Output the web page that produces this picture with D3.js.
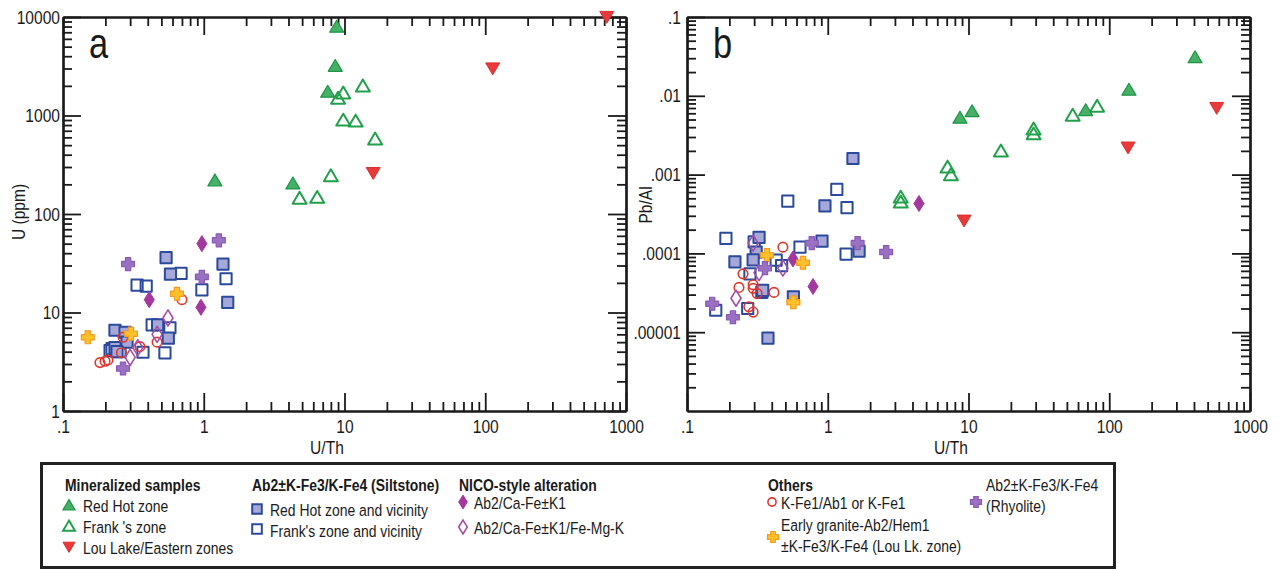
<!DOCTYPE html>
<html>
<head>
<meta charset="utf-8">
<script src="https://cdn.jsdelivr.net/npm/d3@7"></script>
<style>
  html, body { margin: 0; padding: 0; background: #fff; }
  svg { display: block; }
  text { font-family: "Liberation Sans", Arial, sans-serif; fill: #1a1a1a; }
</style>
</head>
<body>
<svg id="chart" width="1279" height="569"></svg>
<script>
// ---------- tick values and labels ----------
const ratioTicks = [0.1, 1, 10, 100, 1000];
const ratioTickLabels = [".1", "1", "10", "100", "1000"];
const uTicks = [1, 10, 100, 1000, 10000];
const uTickLabels = ["1", "10", "100", "1000", "10000"];
const pbAlTicks = [1e-5, 1e-4, 1e-3, 1e-2, 1e-1];
const pbAlTickLabels = [".00001", ".0001", ".001", ".01", ".1"];

// ---------- panel a : [U/Th, U ppm] ----------
const aRedHotZone = [[1.2, 220], [4.3, 205], [7.6, 1750], [8.6, 3200], [8.8, 8000]];
const aFranksZone = [[4.8, 145], [6.4, 148], [8.0, 245], [9.0, 1500], [9.8, 900], [9.8, 1700], [12, 880], [13.5, 2000], [16.5, 580]];
const aLouLake = [[16, 260], [113, 3000], [730, 10000]];
const aSiltRedHot = [[0.54, 36], [1.37, 31], [0.58, 24.5], [1.48, 12.7], [0.47, 7.5], [0.56, 5.5], [0.234, 6.6], [0.276, 6.3], [0.285, 5.0], [0.234, 4.4], [0.242, 4.0]];
const aSiltFranks = [[0.69, 25], [1.44, 22], [0.336, 19], [0.39, 18.5], [0.97, 17], [0.43, 7.5], [0.575, 7.0], [0.53, 3.9], [0.37, 3.95], [0.216, 4.1], [0.254, 4.0], [0.223, 4.3]];
const aNicoK1 = [[0.97, 50], [0.41, 13.5], [0.955, 11.3]];
const aNicoFeMgK = [[0.557, 8.8], [0.466, 6.0], [0.34, 4.4], [0.30, 3.5]];
const aKFe1 = [[0.70, 13.5], [0.466, 5.0], [0.267, 5.6], [0.352, 4.5], [0.26, 3.9], [0.183, 3.1], [0.199, 3.2], [0.209, 3.3]];
const aGranite = [[0.15, 5.6], [0.304, 6.1], [0.645, 15.5]];
const aRhyolite = [[0.29, 31], [1.28, 54], [0.97, 23], [0.267, 2.7]];

// ---------- panel b : [U/Th, Pb/Al] ----------
const bRedHotZone = [[8.7, 0.0053], [10.6, 0.0064], [68, 0.0066], [138, 0.012], [407, 0.031]];
const bFranksZone = [[3.3, 0.00052], [3.3, 0.00045], [7.1, 0.00125], [7.5, 0.001], [17, 0.002], [29, 0.0038], [29, 0.0033], [55, 0.0057], [82, 0.0074]];
const bLouLake = [[9.3, 0.00026], [136, 0.0022], [580, 0.007]];
const bSiltRedHot = [[1.51, 0.0016], [0.955, 0.0004], [0.325, 0.00016], [0.91, 0.000143], [1.67, 0.000107], [0.31, 0.000104], [0.219, 0.000078], [0.295, 0.000083], [0.345, 0.000034], [0.57, 0.000028], [0.376, 0.0000084]];
const bSiltFranks = [[1.16, 0.00065], [0.52, 0.00046], [1.37, 0.00038], [0.189, 0.000155], [0.30, 0.00014], [0.635, 0.00012], [1.35, 0.000098], [0.43, 0.000082], [0.47, 0.00007], [0.28, 0.000055], [0.34, 0.000032], [0.16, 0.000019], [0.27, 0.00002]];
const bNicoK1 = [[4.45, 0.00043], [0.566, 0.000085], [0.786, 0.000038]];
const bNicoFeMgK = [[0.295, 0.000135], [0.48, 0.000065], [0.325, 0.000057], [0.223, 0.000027]];
const bKFe1 = [[0.48, 0.00012], [0.25, 0.000055], [0.234, 0.000037], [0.295, 0.00004], [0.295, 0.000036], [0.315, 0.000031], [0.415, 0.000032], [0.275, 0.000021], [0.295, 0.000018]];
const bGranite = [[0.37, 0.000095], [0.667, 0.000076], [0.57, 0.000024]];
const bRhyolite = [[0.77, 0.000135], [1.63, 0.000135], [2.6, 0.000104], [0.358, 0.000065], [0.151, 0.000023], [0.212, 0.0000155]];

// ---------- marker styles ----------
const styles = {
  redHot:    { shape: "triUp",   fill: "#45b066", stroke: "#1f9547", sw: 1.2 },
  franks:    { shape: "triUp",   fill: "none",    stroke: "#22a04b", sw: 2 },
  louLake:   { shape: "triDown", fill: "#e8393b", stroke: "#d8302f", sw: 1 },
  siltRH:    { shape: "square",  fill: "#a5a8d8", stroke: "#2c4a9c", sw: 2 },
  siltFr:    { shape: "square",  fill: "none",    stroke: "#2c4a9c", sw: 2 },
  nicoK1:    { shape: "diamond", fill: "#a3399f", stroke: "#a3399f", sw: 1 },
  nicoFeMgK: { shape: "diamond", fill: "none",    stroke: "#a44fa6", sw: 1.6 },
  kfe1:      { shape: "circle",  fill: "none",    stroke: "#e0372c", sw: 1.6 },
  granite:   { shape: "cross",   fill: "#ffc12a", stroke: "#f59b22", sw: 1.2 },
  rhyolite:  { shape: "cross",   fill: "#9a70c2", stroke: "#8a5bb6", sw: 1.2 }
};

function shapePath(shape, s) {
  // s = overall marker size in px
  const h = s / 2;
  switch (shape) {
    case "triUp":   return `M0,${-h * 0.9}L${h},${h * 0.8}L${-h},${h * 0.8}Z`;
    case "triDown": return `M${-h},${-h * 0.8}L${h},${-h * 0.8}L0,${h * 0.9}Z`;
    case "square":  return `M${-h * 0.8},${-h * 0.8}h${s * 0.8}v${s * 0.8}h${-s * 0.8}Z`;
    case "diamond": return `M0,${-h * 1.15}L${h * 0.72},0L0,${h * 1.15}L${-h * 0.72},0Z`;
    case "circle":  { const r = h * 0.68; return `M${r},0A${r},${r} 0 1,1 ${-r},0A${r},${r} 0 1,1 ${r},0Z`; }
    case "cross": {
      const w = h * 0.38, L = h * 0.92;
      return `M${-w},${-L}L${w},${-L}L${w},${-w}L${L},${-w}L${L},${w}L${w},${w}L${w},${L}L${-w},${L}L${-w},${w}L${-L},${w}L${-L},${-w}L${-w},${-w}Z`;
    }
  }
}

function drawPoints(g, data, st, x, y, size) {
  g.append("g").selectAll("path").data(data).join("path")
    .attr("d", shapePath(st.shape, size))
    .attr("transform", d => `translate(${x(d[0])},${y(d[1])})`)
    .attr("fill", st.fill)
    .attr("stroke", st.stroke)
    .attr("stroke-width", st.sw)
    .attr("stroke-linejoin", "round");
}

function minorTicks(domain) {
  const lo = Math.floor(Math.log10(domain[0]));
  const hi = Math.ceil(Math.log10(domain[1]));
  const out = [];
  for (let e = lo; e < hi; e++) {
    for (let k = 2; k <= 9; k++) {
      const v = k * Math.pow(10, e);
      if (v > domain[0] && v < domain[1]) out.push(v);
    }
  }
  return out;
}

const svg = d3.select("#chart");
const MAJOR = 18, MINOR = 9;

function drawPanel(opt) {
  const { left, right, top, bottom, xDomain, yDomain, yTicks, yLabels, yPad } = opt;
  const x = d3.scaleLog().domain(xDomain).range([left, right]);
  const y = d3.scaleLog().domain(yDomain).range([bottom, top]);
  const g = svg.append("g");

  const xMinor = minorTicks(xDomain);
  const yMinor = minorTicks(yDomain);

  function styleAxis(sel) {
    sel.select(".domain").attr("stroke", "#1a1a1a").attr("stroke-width", 2.2);
    sel.selectAll(".tick line").attr("stroke", "#1a1a1a").attr("stroke-width", 1.8);
    sel.selectAll(".tick text").attr("font-size", 19).attr("fill", "#1a1a1a")
      .attr("font-family", '"Liberation Sans",Arial,sans-serif');
  }

  // bottom
  g.append("g").attr("transform", `translate(0,${bottom})`)
    .call(d3.axisBottom(x).tickValues(ratioTicks).tickSize(-MAJOR).tickSizeOuter(0).tickPadding(9)
      .tickFormat((d, i) => ratioTickLabels[i])).call(styleAxis);
  g.append("g").attr("transform", `translate(0,${bottom})`)
    .call(d3.axisBottom(x).tickValues(xMinor).tickSize(-MINOR).tickSizeOuter(0).tickFormat("")).call(styleAxis);
  // top
  g.append("g").attr("transform", `translate(0,${top})`)
    .call(d3.axisTop(x).tickValues(ratioTicks).tickSize(-MAJOR).tickSizeOuter(0).tickFormat("")).call(styleAxis);
  g.append("g").attr("transform", `translate(0,${top})`)
    .call(d3.axisTop(x).tickValues(xMinor).tickSize(-MINOR).tickSizeOuter(0).tickFormat("")).call(styleAxis);
  // left
  g.append("g").attr("transform", `translate(${left},0)`)
    .call(d3.axisLeft(y).tickValues(yTicks).tickSize(-MAJOR).tickSizeOuter(0).tickPadding(yPad)
      .tickFormat((d, i) => yLabels[i])).call(styleAxis);
  g.append("g").attr("transform", `translate(${left},0)`)
    .call(d3.axisLeft(y).tickValues(yMinor).tickSize(-MINOR).tickSizeOuter(0).tickFormat("")).call(styleAxis);
  // right
  g.append("g").attr("transform", `translate(${right},0)`)
    .call(d3.axisRight(y).tickValues(yTicks).tickSize(-MAJOR).tickSizeOuter(0).tickFormat("")).call(styleAxis);
  g.append("g").attr("transform", `translate(${right},0)`)
    .call(d3.axisRight(y).tickValues(yMinor).tickSize(-MINOR).tickSizeOuter(0).tickFormat("")).call(styleAxis);

  // axis titles and panel letter
  g.append("text").attr("x", opt.xTitleX).attr("y", 454).attr("text-anchor", "middle")
    .attr("font-size", 19).text("U/Th");
  g.append("text").attr("transform", `translate(${opt.yTitleX},${opt.yTitleY}) rotate(-90)`)
    .attr("text-anchor", "middle").attr("font-size", 19).text(opt.yTitle);
  g.append("text").attr("x", opt.letterX).attr("y", 58).attr("font-size", 42).text(opt.letter);

  const pts = g.append("g");
  opt.series.forEach(([data, st]) => drawPoints(pts, data, st, x, y, 14));
}

drawPanel({
  left: 63, right: 626, top: 17, bottom: 411,
  xDomain: [0.1, 1000], yDomain: [1, 10000],
  yTicks: uTicks, yLabels: uTickLabels, yPad: 3,
  xTitleX: 327,
  yTitle: "U (ppm)", yTitleX: 25, yTitleY: 212,
  letter: "a", letterX: 89,
  series: [
    [aSiltFranks, styles.siltFr], [aSiltRedHot, styles.siltRH],
    [aKFe1, styles.kfe1], [aNicoFeMgK, styles.nicoFeMgK], [aNicoK1, styles.nicoK1],
    [aGranite, styles.granite], [aRhyolite, styles.rhyolite],
    [aFranksZone, styles.franks], [aRedHotZone, styles.redHot], [aLouLake, styles.louLake]
  ]
});

drawPanel({
  left: 687, right: 1250, top: 17, bottom: 411,
  xDomain: [0.1, 1000], yDomain: [1e-6, 0.1],
  yTicks: pbAlTicks, yLabels: pbAlTickLabels, yPad: 6,
  xTitleX: 951,
  yTitle: "Pb/Al", yTitleX: 652, yTitleY: 205,
  letter: "b", letterX: 713,
  series: [
    [bSiltFranks, styles.siltFr], [bSiltRedHot, styles.siltRH],
    [bKFe1, styles.kfe1], [bNicoFeMgK, styles.nicoFeMgK], [bNicoK1, styles.nicoK1],
    [bGranite, styles.granite], [bRhyolite, styles.rhyolite],
    [bFranksZone, styles.franks], [bRedHotZone, styles.redHot], [bLouLake, styles.louLake]
  ]
});

// ---------- legend ----------
const legendGroups = [
  { title: "Mineralized samples", x: 65 },
  { title: "Ab2\u00b1K-Fe3/K-Fe4 (Siltstone)", x: 252 },
  { title: "NICO-style alteration", x: 459 },
  { title: "Others", x: 768 }
];
const legendItems = [
  { style: "redHot",    mx: 69,  my: 505, tx: 83,  lines: ["Red Hot zone"], ty: 512 },
  { style: "franks",    mx: 69,  my: 526, tx: 83,  lines: ["Frank 's zone"], ty: 533 },
  { style: "louLake",   mx: 69,  my: 547, tx: 83,  lines: ["Lou Lake/Eastern zones"], ty: 554 },
  { style: "siltRH",    mx: 257, my: 509, tx: 270, lines: ["Red Hot zone and vicinity"], ty: 516 },
  { style: "siltFr",    mx: 257, my: 529, tx: 270, lines: ["Frank's zone and vicinity"], ty: 537 },
  { style: "nicoK1",    mx: 463, my: 502, tx: 474, lines: ["Ab2/Ca-Fe\u00b1K1"], ty: 509 },
  { style: "nicoFeMgK", mx: 463, my: 527, tx: 474, lines: ["Ab2/Ca-Fe\u00b1K1/Fe-Mg-K"], ty: 534 },
  { style: "kfe1",      mx: 772, my: 502, tx: 781, lines: ["K-Fe1/Ab1 or K-Fe1"], ty: 509 },
  { style: "granite",   mx: 773, my: 537, tx: 781, lines: ["Early granite-Ab2/Hem1", "\u00b1K-Fe3/K-Fe4 (Lou Lk. zone)"], ty: 531 },
  { style: "rhyolite",  mx: 976, my: 502, tx: 986, lines: ["Ab2\u00b1K-Fe3/K-Fe4", "(Rhyolite)"], ty: 491 }
];

const lg = svg.append("g");
lg.append("rect").attr("x", 41.5).attr("y", 463.5).attr("width", 1073).attr("height", 104)
  .attr("fill", "none").attr("stroke", "#222").attr("stroke-width", 3);
lg.selectAll("text.head").data(legendGroups).join("text").attr("class", "head")
  .attr("x", d => d.x).attr("y", 491).attr("font-size", 17).attr("font-weight", "bold").text(d => d.title);
legendItems.forEach(it => {
  const st = styles[it.style];
  lg.append("path").attr("d", shapePath(st.shape, 12))
    .attr("transform", `translate(${it.mx},${it.my})`)
    .attr("fill", st.fill).attr("stroke", st.stroke).attr("stroke-width", st.sw);
  it.lines.forEach((ln, i) => {
    lg.append("text").attr("x", it.tx).attr("y", it.ty + i * 21).attr("font-size", 17).text(ln);
  });
});

// Condensed lettering: squeeze every label horizontally about its own anchor point.
const SQUEEZE = 0.82;
svg.selectAll("text").each(function () {
  const ax = +this.getAttribute("x") || 0;
  const t = this.getAttribute("transform") || "";
  this.setAttribute("transform", `${t} translate(${ax},0) scale(${SQUEEZE},1) translate(${-ax},0)`.trim());
});
</script>
</body>
</html>
